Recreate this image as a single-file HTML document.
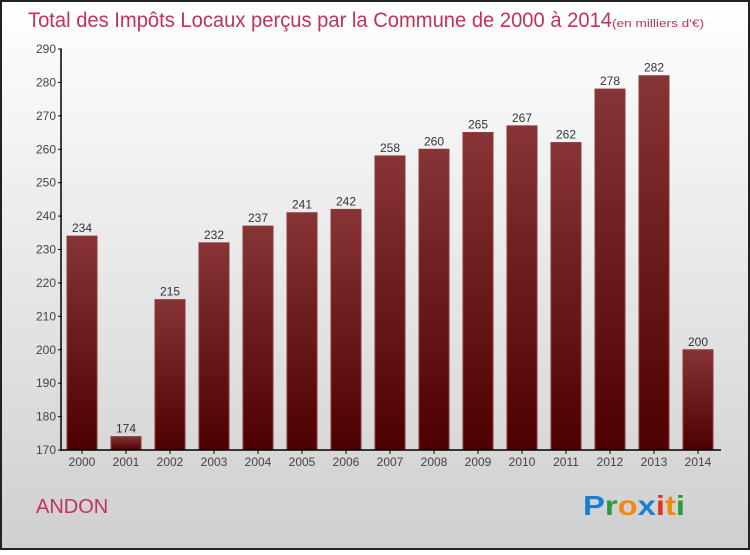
<!DOCTYPE html>
<html><head><meta charset="utf-8"><style>
html,body{margin:0;padding:0}
body{width:750px;height:550px;overflow:hidden;font-family:"Liberation Sans",sans-serif}
</style></head><body>
<svg width="750" height="550" xmlns="http://www.w3.org/2000/svg">
<defs>
<linearGradient id="bg" x1="0" y1="0" x2="0" y2="1"><stop offset="0" stop-color="#ffffff"/><stop offset="1" stop-color="#cfcfcf"/></linearGradient>
<linearGradient id="bar" x1="0" y1="0" x2="0" y2="1"><stop offset="0" stop-color="#873436"/><stop offset="1" stop-color="#4d0000"/></linearGradient>
</defs>
<rect x="1" y="1" width="748" height="548" fill="url(#bg)" stroke="#222" stroke-width="2"/>
<text x="28" y="27" font-size="21" fill="#c0335a"><tspan textLength="584" lengthAdjust="spacingAndGlyphs">Total des Impôts Locaux perçus par la Commune de 2000 à 2014</tspan><tspan font-size="11" textLength="92" lengthAdjust="spacingAndGlyphs">(en milliers d'€)</tspan></text>
<g id="plot"></g>
<text x="36" y="513" font-size="20" fill="#c0335a">ANDON</text>
<g font-size="28" font-weight="bold">
<text x="583" y="515" textLength="102" lengthAdjust="spacingAndGlyphs"><tspan fill="#1a7fd4">P</tspan><tspan fill="#2a9a3a">r</tspan><tspan fill="#f08a10">o</tspan><tspan fill="#1a7fd4">x</tspan><tspan fill="#e83020">i</tspan><tspan fill="#f08a10">t</tspan><tspan fill="#2a9a3a">i</tspan></text>
</g>
</svg>
<script>
const years=["2000","2001","2002","2003","2004","2005","2006","2007","2008","2009","2010","2011","2012","2013","2014"];
const values=[234,174,215,232,237,241,242,258,260,265,267,262,278,282,200];
const yTicks=[170,180,190,200,210,220,230,240,250,260,270,280,290];
const NS="http://www.w3.org/2000/svg";
const g=document.getElementById('plot');
const y0=450,y1=49,vmin=170,vmax=290;
const yScale=v=>y0-(v-vmin)/(vmax-vmin)*(y0-y1);
const xScale=i=>82+i*44;
function mk(t,a){const e=document.createElementNS(NS,t);for(const k in a)e.setAttribute(k,a[k]);g.appendChild(e);return e;}
yTicks.forEach(v=>{
 const y=yScale(v);
 const l=mk('line',{x1:58,x2:62,y1:y,y2:y,stroke:'#000'});
 
 
 const t=mk('text',{x:56,y:y+4,'text-anchor':'end','font-size':12,fill:'#444'});
 t.textContent=v;
 
 
});
values.forEach((v,i)=>{
 const cx=xScale(i),y=yScale(v);
 const r=mk('rect',{x:cx-15,y:y,width:30,height:y0-y,fill:'url(#bar)',stroke:'#8a3a3c','stroke-width':1});
 
 
 const t=mk('text',{x:cx,y:y-4,'text-anchor':'middle','font-size':12,fill:'#333'});
 t.textContent=v;
 
 
 const k=mk('line',{x1:cx,x2:cx,y1:450,y2:454,stroke:'#000'});
 
 
 const xl=mk('text',{x:cx,y:466,'text-anchor':'middle','font-size':12,fill:'#444'});
 xl.textContent=years[i];
 
 
});
const ya=mk('line',{x1:61,x2:61,y1:49,y2:451,stroke:'#000','stroke-width':1.5});


const xa=mk('line',{x1:61,x2:721,y1:450,y2:450,stroke:'#000','stroke-width':1.5});


</script>
</body></html>
